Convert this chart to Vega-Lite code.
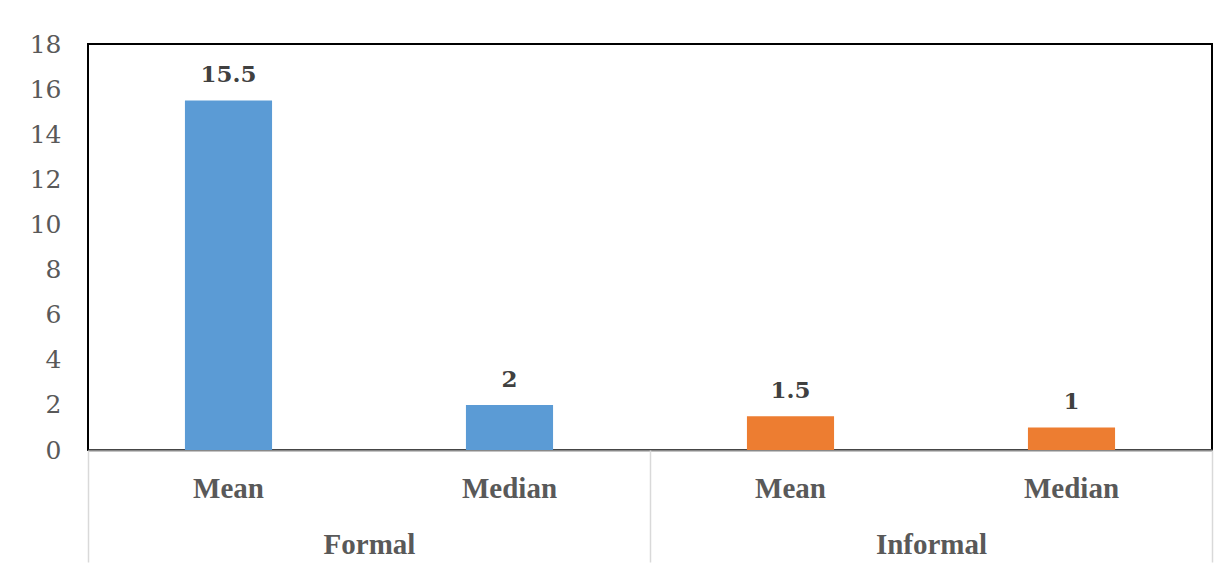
{
  "$schema": "https://vega.github.io/schema/vega-lite/v6.json",
  "width": 1124,
  "height": 406,
  "autosize": {"type": "none"},
  "padding": {"left": 88, "top": 44, "right": 17, "bottom": 115},
  "background": "white",
  "config": {
    "view": {"stroke": "#000000", "strokeWidth": 2},
    "axis": {"grid": false}
  },
  "data": {
    "values": [
      {"group": "Formal", "stat": "Mean", "key": "Formal|Mean", "value": 15.5},
      {"group": "Formal", "stat": "Median", "key": "Formal|Median", "value": 2},
      {"group": "Informal", "stat": "Mean", "key": "Informal|Mean", "value": 1.5},
      {"group": "Informal", "stat": "Median", "key": "Informal|Median", "value": 1}
    ]
  },
  "layer": [
    {
      "encoding": {
        "x": {
          "field": "key",
          "type": "nominal",
          "sort": null,
          "scale": {"paddingInner": 0.69, "paddingOuter": 0.345},
          "axis": {
            "title": null,
            "orient": "bottom",
            "labelAngle": 0,
            "labelExpr": "split(datum.label, '|')[1]",
            "labelFont": "Liberation Serif",
            "labelFontWeight": "bold",
            "labelFontSize": 29,
            "labelColor": "#595959",
            "labelBaseline": "alphabetic",
            "labelPadding": 47,
            "ticks": false,
            "tickSize": 0,
            "domain": true,
            "domainColor": "#898989",
            "domainWidth": 2
          }
        },
        "y": {
          "field": "value",
          "type": "quantitative",
          "scale": {"domain": [0, 18], "nice": false},
          "axis": {
            "title": null,
            "values": [0, 2, 4, 6, 8, 10, 12, 14, 16, 18],
            "labelFont": "DejaVu Serif",
            "labelFontSize": 25,
            "labelColor": "#595959",
            "labelPadding": 27,
            "ticks": false,
            "tickSize": 0,
            "domain": false
          }
        }
      },
      "layer": [
        {
          "mark": {"type": "bar"},
          "encoding": {
            "color": {
              "field": "group",
              "type": "nominal",
              "scale": {"domain": ["Formal", "Informal"], "range": ["#5B9BD5", "#ED7D31"]},
              "legend": null
            }
          }
        },
        {
          "mark": {
            "type": "text",
            "font": "DejaVu Serif",
            "fontWeight": "bold",
            "fontSize": 23,
            "color": "#404040",
            "baseline": "alphabetic",
            "align": "center",
            "dy": -18
          },
          "encoding": {"text": {"field": "value", "type": "quantitative"}}
        }
      ]
    },
    {
      "mark": {"type": "point", "opacity": 0},
      "encoding": {
        "x": {
          "field": "group",
          "type": "nominal",
          "sort": null,
          "scale": {"paddingInner": 0, "paddingOuter": 0},
          "axis": {
            "title": null,
            "orient": "bottom",
            "labelAngle": 0,
            "labelFont": "Liberation Serif",
            "labelFontWeight": "bold",
            "labelFontSize": 29,
            "labelColor": "#595959",
            "labelBaseline": "alphabetic",
            "labelPadding": -9,
            "ticks": true,
            "tickBand": "extent",
            "tickSize": 112,
            "tickColor": "#d9d9d9",
            "tickWidth": 1.5,
            "domain": false
          }
        },
        "y": {"field": "value", "type": "quantitative"}
      }
    }
  ],
  "resolve": {"scale": {"x": "independent"}, "axis": {"x": "independent"}}
}
